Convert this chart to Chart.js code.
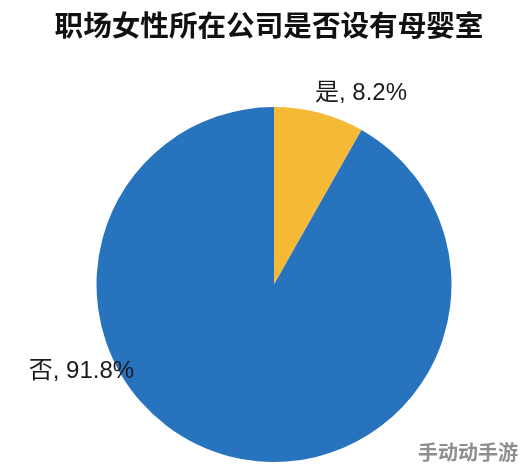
<!DOCTYPE html>
<html>
<head>
<meta charset="utf-8">
<script src="https://cdn.jsdelivr.net/npm/chart.js@4"></script>
<style>
	html, body { margin: 0; padding: 0; background: #fff; }
	#wrap { width: 527px; height: 473px; }
</style>
</head>
<body>
<div id="wrap"><canvas id="pieChart" width="527" height="473"></canvas></div>
<script>
// 데이터
const categories = ['是', '否'];
const shares = [8.2, 91.8];
const sliceColors = ['#F6B935', '#2873BE'];
const titleText = '职场女性所在公司是否设有母婴室';
const watermarkText = '手动动手游';

document.addEventListener("DOMContentLoaded", function(){
	const ctx = document.getElementById('pieChart').getContext('2d');

	// label offset relative to the pie center, in units of radius
	const labelSpots = [
		{dx: 0.49, dy: -1.075},
		{dx: -1.085, dy: 0.49}
	];

	const textPlugin = {
		id: 'textPlugin',
		afterDraw(chart) {
			const c = chart.ctx;
			c.save();
			// title
			c.fillStyle = '#111';
			c.font = 'bold 28.6px "Noto Sans CJK SC", sans-serif';
			c.textAlign = 'center';
			c.textBaseline = 'middle';
			c.fillText(titleText, 269, 25);

			// slice labels
			const arcs = chart.getDatasetMeta(0).data;
			c.font = '24px "Liberation Sans", "Noto Sans CJK SC", sans-serif';
			c.fillStyle = '#1a1a1a';
			arcs.forEach(function(arc, i){
				const p = arc.getProps(['x', 'y', 'outerRadius'], true);
				const x = p.x + labelSpots[i].dx * p.outerRadius;
				const y = p.y + labelSpots[i].dy * p.outerRadius;
				c.fillText(categories[i] + ', ' + shares[i].toFixed(1) + '%', x, y);
			});

			// watermark
			c.font = 'bold 20px "Noto Sans CJK SC", sans-serif';
			c.fillStyle = 'rgba(130,130,130,0.9)';
			c.fillText(watermarkText, 468, 452);
			c.restore();
		}
	};

	const pieChart = new Chart(ctx, {
		type: 'pie',
		data: {
			labels: categories,
			datasets: [
				{
					data: shares,
					backgroundColor: sliceColors,
					borderWidth: 0,
					offset: 0,
					hoverOffset: 0
				}
			]
		},
		options: {
			responsive: false,
			animation: false,
			layout: {
				padding: {top: 107, bottom: 11, left: 21, right: 0}
			},
			plugins: {
				legend: { display: false },
				tooltip: { enabled: false },
				title: { display: false }
			}
		},
		plugins: [textPlugin]
	});
});
</script>
</body>
</html>
